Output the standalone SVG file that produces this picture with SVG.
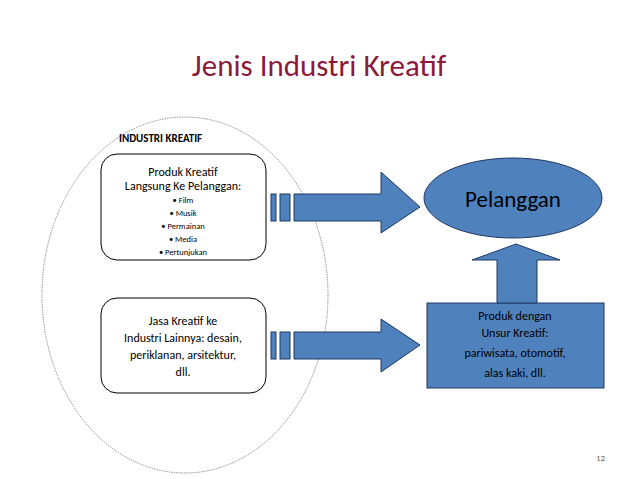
<svg xmlns="http://www.w3.org/2000/svg" width="638" height="479" viewBox="0 0 638 479">
<style>
text{font-family:Calibri,"Carlito","Liberation Sans",sans-serif;fill:#000}
.box{fill:#fff;stroke:#000;stroke-width:1}
.blue{fill:#4F81BD;stroke:#1F3864;stroke-width:1}
</style>
<rect width="638" height="479" fill="#fff"/>
<text x="319" y="76" text-anchor="middle" font-size="31" style="fill:#8B1A3A">Jenis Industri Kreatif</text>
<g id="industri">
<ellipse cx="185" cy="295" rx="143" ry="178" fill="none" stroke="#777" stroke-width="0.8" stroke-dasharray="1.5,1"/>
<text x="119" y="142" font-size="11" font-weight="bold">INDUSTRI KREATIF</text>
</g>
<g id="produk">
<rect class="box" x="101" y="154" width="165" height="106" rx="16"/>
<text text-anchor="middle" font-size="12"><tspan x="183" y="176">Produk Kreatif</tspan><tspan x="183" y="190">Langsung Ke Pelanggan:</tspan></text>
<text text-anchor="middle" font-size="8.5"><tspan x="183" y="203">• Film</tspan><tspan x="183" y="216">• Musik</tspan><tspan x="183" y="229">• Permainan</tspan><tspan x="183" y="242">• Media</tspan><tspan x="183" y="255">• Pertunjukan</tspan></text>
</g>
<g id="jasa">
<rect class="box" x="101" y="298" width="165" height="95" rx="16"/>
<text text-anchor="middle" font-size="12"><tspan x="183" y="325">Jasa Kreatif ke</tspan><tspan x="183" y="342">Industri Lainnya: desain,</tspan><tspan x="183" y="359">periklanan, arsitektur,</tspan><tspan x="183" y="376">dll.</tspan></text>
</g>
<g id="pelanggan">
<ellipse class="blue" cx="513" cy="198" rx="89" ry="40"/>
<text x="513" y="207" text-anchor="middle" font-size="23">Pelanggan</text>
</g>
<g id="unsur">
<rect class="blue" x="427" y="303" width="177" height="85"/>
<text text-anchor="middle" font-size="12"><tspan x="515" y="320">Produk dengan</tspan><tspan x="515" y="337">Unsur Kreatif:</tspan><tspan x="515" y="357">pariwisata, otomotif,</tspan><tspan x="515" y="377">alas kaki, dll.</tspan></text>
</g>
<g id="connectors">
<rect class="blue" x="271" y="194" width="5" height="27"/>
<rect class="blue" x="280" y="194" width="10" height="27"/>
<path class="blue" d="M294 194H381V172L420 207L381 233V221H294Z"/>
<rect class="blue" x="271" y="332" width="5" height="27"/>
<rect class="blue" x="280" y="332" width="10" height="27"/>
<path class="blue" d="M294 332H381V319L420 345L381 372V359H294Z"/>
<path class="blue" d="M497 303V260H472L516 244L560 260H537V303Z"/>
</g>
<text x="596" y="461" font-size="9" style="fill:#666">12</text>
</svg>
